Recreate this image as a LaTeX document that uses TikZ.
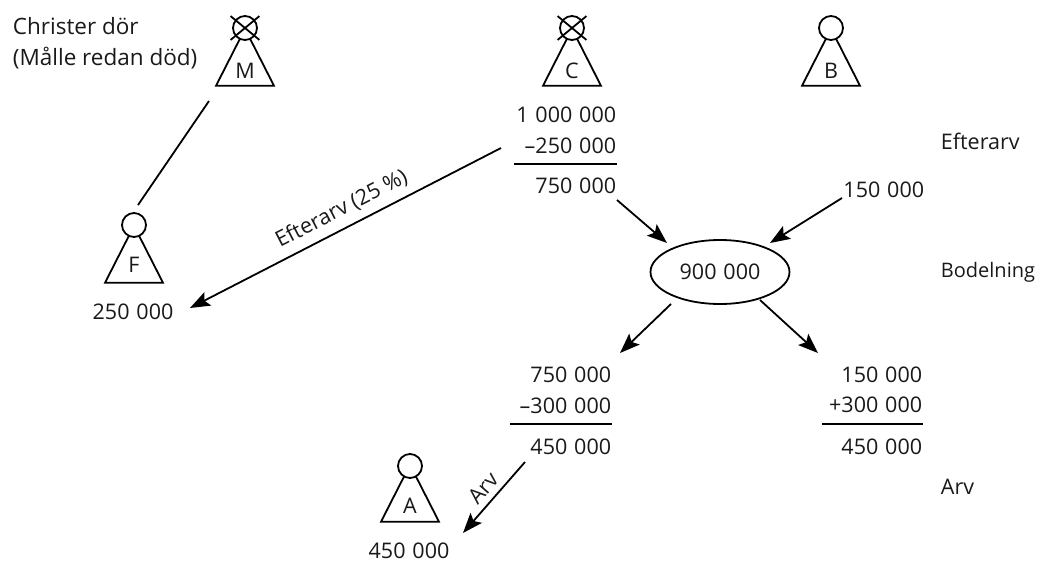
\documentclass[tikz,border=0pt]{standalone}
\usepackage{fontspec}
\setmainfont{Open Sans}
\usetikzlibrary{arrows.meta,shapes.geometric,shapes.misc}
\newcommand{\num}[2]{#1\hspace{0.32em}#2}

\begin{document}
\begin{tikzpicture}[x=1pt,y=-1pt,line width=1.8pt,
    >={Stealth[length=20pt,width=15pt,inset=4pt]},
    every node/.style={font=\fontsize{21.5}{31}\selectfont,text=black!90,inner sep=0pt},
    head/.style={circle,draw,fill=white,minimum size=24pt},
    body/.style={isosceles triangle,isosceles triangle apex angle=62,shape border rotate=90,
        isosceles triangle stretches,draw,minimum width=58pt,minimum height=57pt},
    gone/.style={cross out,draw,minimum width=27pt,minimum height=22pt},
    amount/.style={anchor=east},
    tag/.style={anchor=west},
    rule/.style={line width=1.2pt}]
    \useasboundingbox (0,0) rectangle (1050,563);

    \node[body] (M) at (245,68) {};
    \node[body] (C) at (572,68) {};
    \node[body] (B) at (831,68) {};
    \node[body] (F) at (134,265) {};
    \node[body] (A) at (410,504) {};
    \node[head] (M_h) at (245,28) {};
    \node[head] (C_h) at (572,28) {};
    \node[head] (B_h) at (831,28) {};
    \node[head] (F_h) at (134,225) {};
    \node[head] (A_h) at (410,466) {};
    \node[gone] (M_x) at (245,28) {};
    \node[gone] (C_x) at (572,28) {};
    \node (M_t) at (245,71) {M};
    \node (C_t) at (572,71) {C};
    \node (B_t) at (831,71) {B};
    \node (F_t) at (134,265) {F};
    \node (A_t) at (410,506) {A};

    \node[anchor=west,align=left,font=\fontsize{22.5}{31}\selectfont] (note) at (12,43) {Christer dör\\(Målle redan död)};

    \node[amount] (c_1) at (617,115) {\num{1}{\num{000}{000}}};
    \node[amount] (c_2) at (617,146) {\num{--250}{000}};
    \node[amount] (c_3) at (617,186) {\num{750}{000}};
    \node[amount] (b_1) at (925,190) {\num{150}{000}};
    \node[amount] (l_1) at (612,375) {\num{750}{000}};
    \node[amount] (l_2) at (612,406) {\num{--300}{000}};
    \node[amount] (l_3) at (612,447) {\num{450}{000}};
    \node[amount] (r_1) at (923,375) {\num{150}{000}};
    \node[amount] (r_2) at (923,405) {\num{+300}{000}};
    \node[amount] (r_3) at (923,447) {\num{450}{000}};
    \node (f_1) at (133,312) {\num{250}{000}};
    \node (a_1) at (409,551) {\num{450}{000}};

    \node[tag] (efterarv) at (940,141) {Efterarv};
    \node[tag,font=\fontsize{20}{24}\selectfont] (bodelning) at (940,272) {Bodelning};
    \node[tag] (arv) at (940,487) {Arv};

    \node[ellipse,draw,minimum width=139pt,minimum height=64pt] (pot) at (720,272) {\num{900}{000}};

    \coordinate (c_r) at (514,164);
    \coordinate (c_s) at (617,164);
    \coordinate (l_r) at (510,424);
    \coordinate (l_s) at (612,424);
    \coordinate (r_r) at (822,424);
    \coordinate (r_s) at (923,424);
    \coordinate (M_e) at (209,101);
    \coordinate (F_e) at (138,205);
    \coordinate (c_o) at (501,148);
    \coordinate (f_o) at (190,308);
    \coordinate (c_d) at (617,200);
    \coordinate (p_l) at (667,243);
    \coordinate (b_d) at (842,198);
    \coordinate (p_r) at (770,243);
    \coordinate (p_a) at (671,304);
    \coordinate (l_i) at (620,353);
    \coordinate (p_b) at (760,300);
    \coordinate (r_i) at (818,353);
    \coordinate (l_o) at (525,462);
    \coordinate (a_i) at (463,533);

    \draw[rule] (c_r) -- (c_s);
    \draw[rule] (l_r) -- (l_s);
    \draw[rule] (r_r) -- (r_s);
    \draw (M_e) -- (F_e);

    \path[->]
    (c_o) edge node[sloped,above=8pt,pos=.485] {Efterarv (25 \%)} (f_o)
    (c_d) edge (p_l)
    (b_d) edge (p_r)
    (p_a) edge (l_i)
    (p_b) edge (r_i)
    (l_o) edge node[sloped,above=6pt] {Arv} (a_i);
\end{tikzpicture}
\end{document}
